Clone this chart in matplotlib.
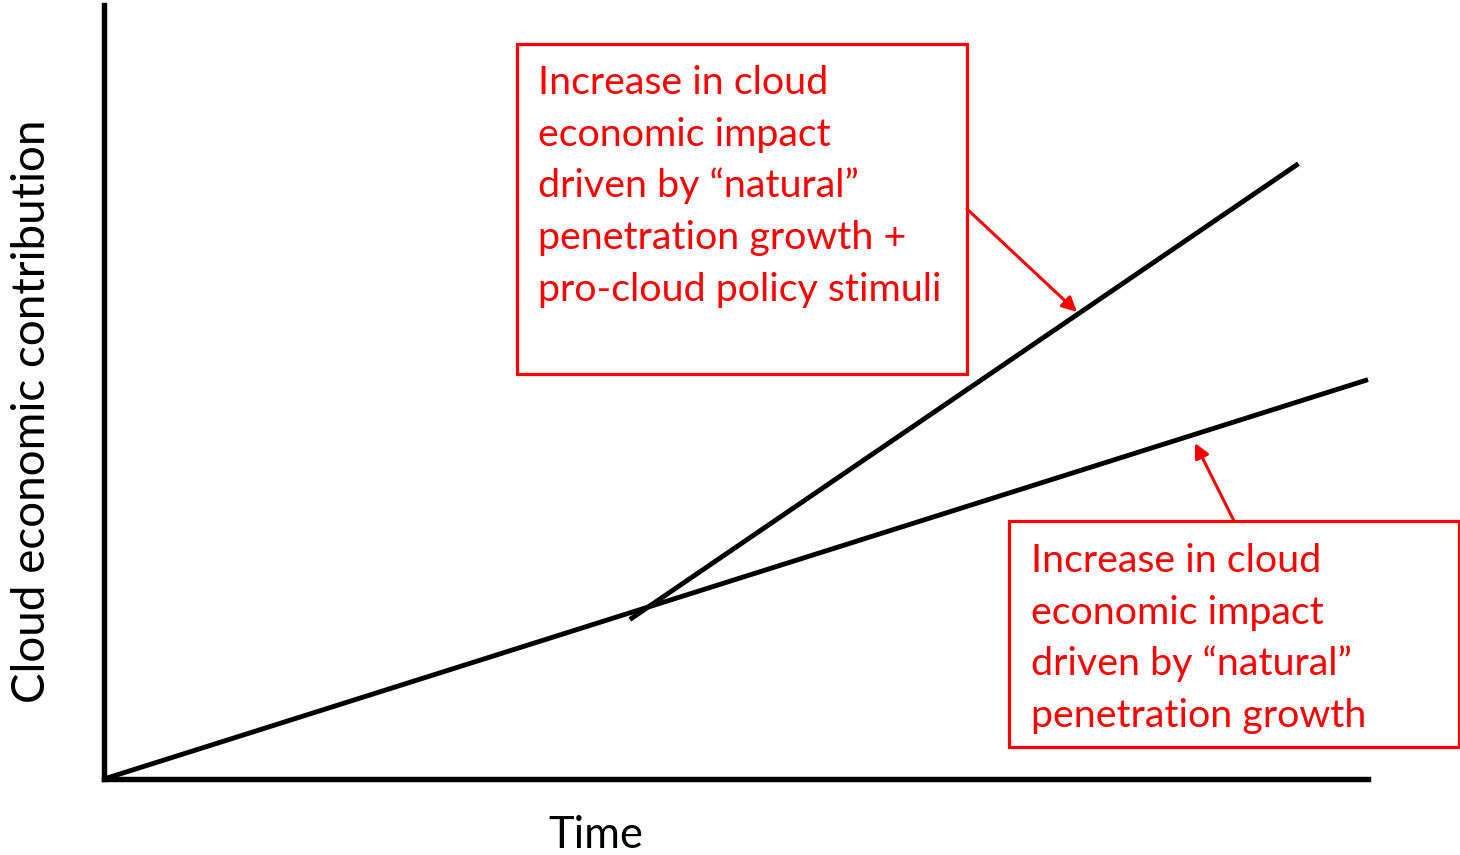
import matplotlib
matplotlib.use("Agg")
import matplotlib.pyplot as plt
from matplotlib.patches import Rectangle, FancyArrowPatch
from matplotlib.transforms import Affine2D

# ---- data (conceptual chart, arbitrary units) ----
time_range = [0, 100]
contrib_range = [0, 100]
natural_time = [0.0, 100.0]
natural_contrib = [0.0, 51.6]
policy_time = [41.6, 94.5]
policy_contrib = [20.6, 79.5]

box1_lines = ["Increase in cloud", "economic impact", "driven by \u201cnatural\u201d",
              "penetration growth +", "pro-cloud policy stimuli"]
box2_lines = ["Increase in cloud", "economic impact", "driven by \u201cnatural\u201d",
              "penetration growth"]
xlabel = "Time"
ylabel = "Cloud economic contribution"

W, H = 1460, 855
fig = plt.figure(figsize=(W / 100, H / 100), dpi=100)
plt.rcParams['font.family'] = ['Lato', 'DejaVu Sans']

# axes region in pixels (top-left origin)
x0, x1 = 104, 1368
y_top, y_bot = 5, 779
ax = fig.add_axes([x0 / W, (H - y_bot) / H, (x1 - x0) / W, (y_bot - y_top) / H])
ax.set_xlim(*time_range)
ax.set_ylim(*contrib_range)
ax.set_xticks([])
ax.set_yticks([])
for s in ['top', 'right']:
    ax.spines[s].set_visible(False)
for s in ['left', 'bottom']:
    ax.spines[s].set_linewidth(3.9)
    ax.spines[s].set_color('black')
    ax.spines[s].set_capstyle('projecting')

ax.plot(natural_time, natural_contrib, color='black', lw=3.5, solid_capstyle='butt', clip_on=False)
ax.plot(policy_time, policy_contrib, color='black', lw=3.5, solid_capstyle='butt', clip_on=False)

# pixel transform (top-left origin)
pix = Affine2D().scale(1, -1).translate(0, H)

fig.canvas.draw()
renderer = fig.canvas.get_renderer()

def fit_text(s, target_w, **kw):
    t = fig.text(0, 0, s, fontsize=30, **kw)
    w = t.get_window_extent(renderer).width
    fs = 30 * target_w / w
    t.remove()
    return fs

red = '#FF0000'
# boxes
ax.add_artist(Rectangle((517, 44), 450, 330, transform=pix, fill=False,
                        edgecolor=red, lw=2.3, clip_on=False))
ax.add_artist(Rectangle((1009, 521), 450, 226, transform=pix, fill=False,
                        edgecolor=red, lw=2.3, clip_on=False))

fs_box = fit_text("pro-cloud policy stimuli", 403)
base1 = [94, 145.7, 197.4, 249, 300.8]
for line, yb in zip(box1_lines, base1):
    fig.text(538, yb, line, transform=pix, fontsize=fs_box, color=red,
             ha='left', va='baseline')
base2 = [572, 623.5, 675, 726.5]
for line, yb in zip(box2_lines, base2):
    fig.text(1031, yb, line, transform=pix, fontsize=fs_box, color=red,
             ha='left', va='baseline')

# arrows
for (sx, sy), (ex, ey) in [((967, 209), (1077, 312)), ((1234, 521), (1195, 443))]:
    arr = FancyArrowPatch((sx, sy), (ex, ey), transform=pix, arrowstyle='-|>',
                          mutation_scale=22, color=red, lw=2.2,
                          shrinkA=0, shrinkB=0, clip_on=False)
    fig.add_artist(arr)

# labels
fs_x = fit_text(xlabel, 95)
fig.text(596, 848, xlabel, transform=pix, fontsize=fs_x, color='black',
         ha='center', va='baseline')
fs_y = fit_text(ylabel, 583)
fig.text(32, 411, ylabel, transform=pix, fontsize=fs_y, color='black',
         ha='center', va='center', rotation=90)

fig.savefig('out.png', dpi=100)
